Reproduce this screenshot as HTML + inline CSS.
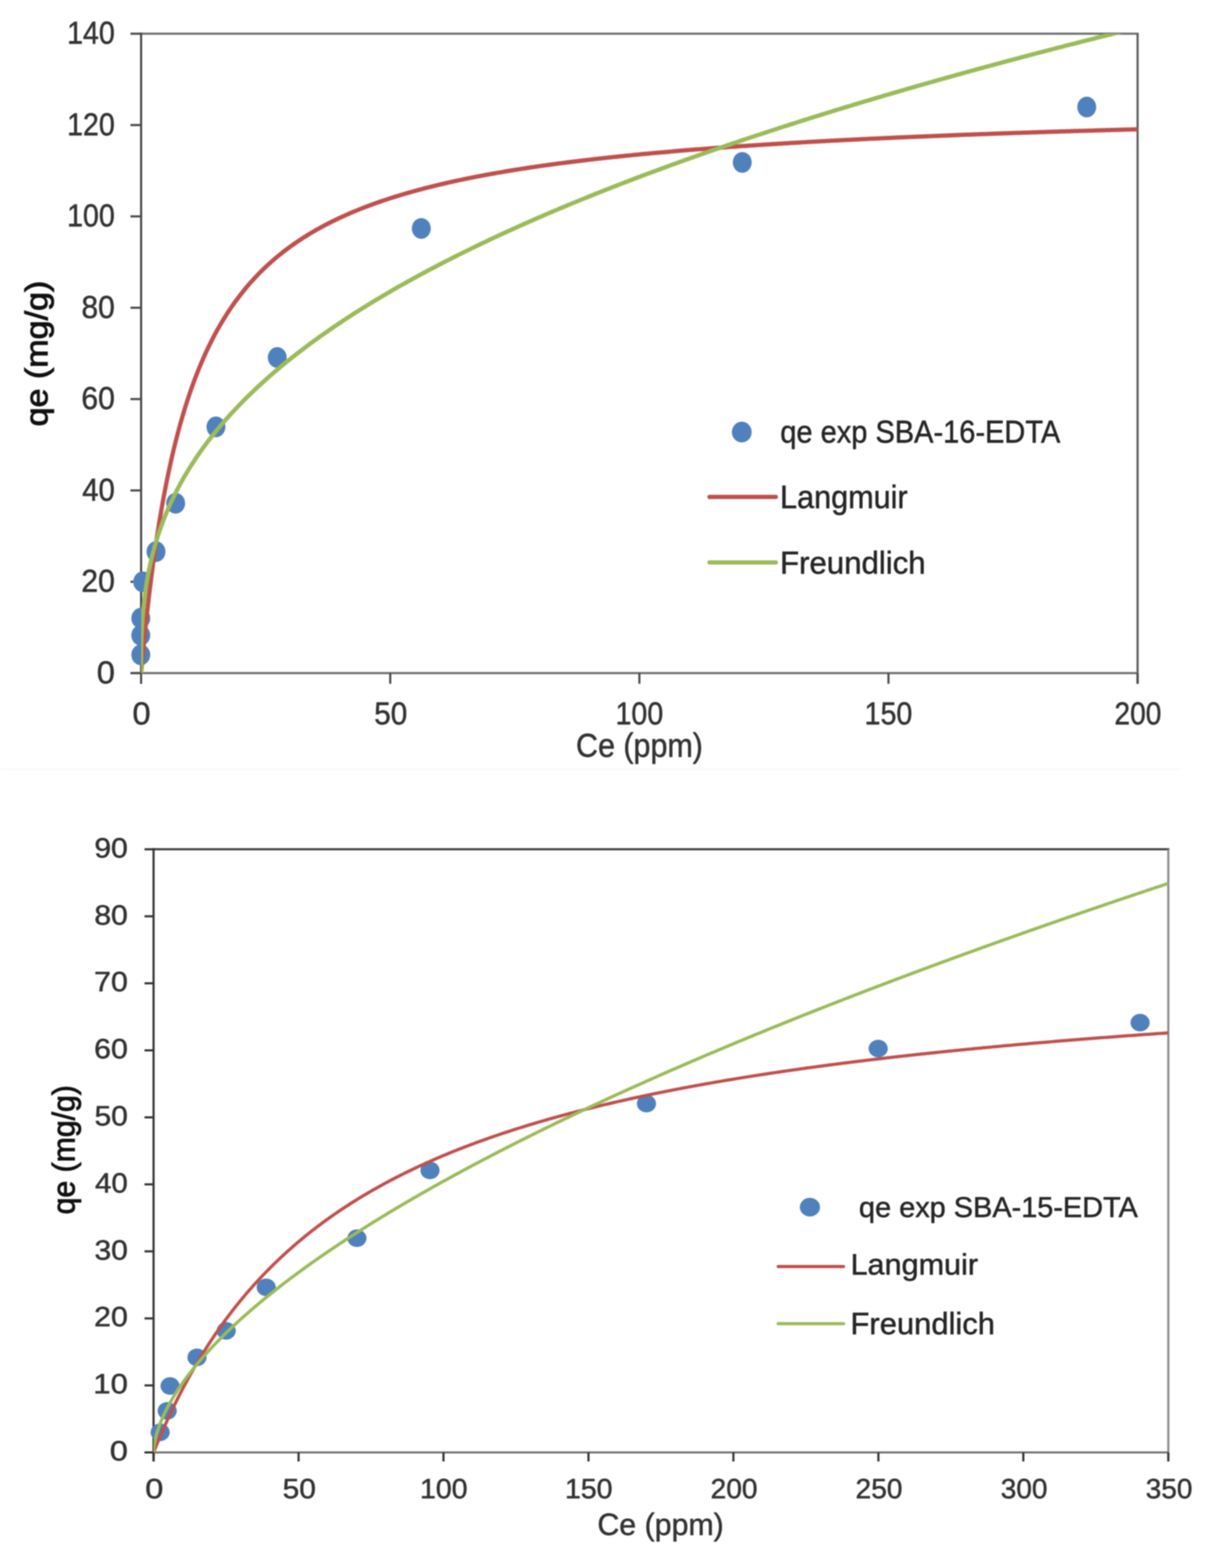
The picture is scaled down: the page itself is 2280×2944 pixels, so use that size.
<!DOCTYPE html><html><head><meta charset="utf-8"><title>Isotherms</title><style>html,body{margin:0;padding:0;background:#fff;}svg{display:block;filter:blur(0.9px);}</style></head><body>
<svg width="2280" height="2944" viewBox="0 0 2280 2944">
<rect width="2280" height="2944" fill="#fff"/>
<line x1="0" y1="1444.5" x2="2218" y2="1444.5" stroke="#f9f9f9" stroke-width="3"/>
<g stroke-linecap="butt" fill="none">
<line x1="263.0" y1="63.3" x2="2138.5" y2="63.3" stroke="#6e6e6e" stroke-width="4"/>
<line x1="2136.5" y1="63.3" x2="2136.5" y2="1283.8" stroke="#5a5a5a" stroke-width="4"/>
<line x1="245.0" y1="1263.8" x2="2136.5" y2="1263.8" stroke="#6e6e6e" stroke-width="4"/>
<line x1="265.0" y1="61.3" x2="265.0" y2="1283.8" stroke="#4a4a4a" stroke-width="4"/>
<line x1="245.0" y1="1263.8" x2="265.0" y2="1263.8" stroke="#4a4a4a" stroke-width="4"/>
<line x1="245.0" y1="1092.3" x2="265.0" y2="1092.3" stroke="#4a4a4a" stroke-width="4"/>
<line x1="245.0" y1="920.8" x2="265.0" y2="920.8" stroke="#4a4a4a" stroke-width="4"/>
<line x1="245.0" y1="749.3" x2="265.0" y2="749.3" stroke="#4a4a4a" stroke-width="4"/>
<line x1="245.0" y1="577.8" x2="265.0" y2="577.8" stroke="#4a4a4a" stroke-width="4"/>
<line x1="245.0" y1="406.3" x2="265.0" y2="406.3" stroke="#4a4a4a" stroke-width="4"/>
<line x1="245.0" y1="234.8" x2="265.0" y2="234.8" stroke="#4a4a4a" stroke-width="4"/>
<line x1="245.0" y1="63.3" x2="265.0" y2="63.3" stroke="#4a4a4a" stroke-width="4"/>
<line x1="265.0" y1="1263.8" x2="265.0" y2="1283.8" stroke="#4a4a4a" stroke-width="4"/>
<line x1="732.9" y1="1263.8" x2="732.9" y2="1283.8" stroke="#4a4a4a" stroke-width="4"/>
<line x1="1200.8" y1="1263.8" x2="1200.8" y2="1283.8" stroke="#4a4a4a" stroke-width="4"/>
<line x1="1668.6" y1="1263.8" x2="1668.6" y2="1283.8" stroke="#4a4a4a" stroke-width="4"/>
<line x1="2136.5" y1="1263.8" x2="2136.5" y2="1283.8" stroke="#4a4a4a" stroke-width="4"/>
</g>
<g font-family='"Liberation Sans", Arial, sans-serif'>
<text x="0" y="0" transform="translate(181.65,1282.61) scale(1.0404,1)" font-size="58.87" font-weight="normal" fill="#333333" stroke="#333333" stroke-width="0.9">0</text>
<text x="0" y="0" transform="translate(152.67,1111.11) scale(0.9611,1)" font-size="58.87" font-weight="normal" fill="#333333" stroke="#333333" stroke-width="0.9">20</text>
<text x="0" y="0" transform="translate(154.40,939.61) scale(0.9338,1)" font-size="58.87" font-weight="normal" fill="#333333" stroke="#333333" stroke-width="0.9">40</text>
<text x="0" y="0" transform="translate(152.67,768.11) scale(0.9611,1)" font-size="58.87" font-weight="normal" fill="#333333" stroke="#333333" stroke-width="0.9">60</text>
<text x="0" y="0" transform="translate(152.97,596.61) scale(0.9565,1)" font-size="58.87" font-weight="normal" fill="#333333" stroke="#333333" stroke-width="0.9">80</text>
<text x="0" y="0" transform="translate(125.97,425.11) scale(0.9121,1)" font-size="58.87" font-weight="normal" fill="#333333" stroke="#333333" stroke-width="0.9">100</text>
<text x="0" y="0" transform="translate(125.97,253.61) scale(0.9121,1)" font-size="58.87" font-weight="normal" fill="#333333" stroke="#333333" stroke-width="0.9">120</text>
<text x="0" y="0" transform="translate(125.97,82.11) scale(0.9121,1)" font-size="58.87" font-weight="normal" fill="#333333" stroke="#333333" stroke-width="0.9">140</text>
<text x="0" y="0" transform="translate(248.85,1360.41) scale(1.0404,1)" font-size="58.87" font-weight="normal" fill="#333333" stroke="#333333" stroke-width="0.9">0</text>
<text x="0" y="0" transform="translate(702.63,1360.41) scale(0.9519,1)" font-size="58.87" font-weight="normal" fill="#333333" stroke="#333333" stroke-width="0.9">50</text>
<text x="0" y="0" transform="translate(1155.97,1360.41) scale(0.9121,1)" font-size="58.87" font-weight="normal" fill="#333333" stroke="#333333" stroke-width="0.9">100</text>
<text x="0" y="0" transform="translate(1623.85,1360.41) scale(0.9121,1)" font-size="58.87" font-weight="normal" fill="#333333" stroke="#333333" stroke-width="0.9">150</text>
<text x="0" y="0" transform="translate(2093.11,1360.41) scale(0.8977,1)" font-size="58.87" font-weight="normal" fill="#333333" stroke="#333333" stroke-width="0.9">200</text>
<text x="0" y="0" transform="translate(1081.84,1421.37) scale(0.9104,1)" font-size="62.82" font-weight="normal" fill="#333333" stroke="#333333" stroke-width="0.9">Ce (ppm)</text>
<text x="0" y="0" transform="translate(89.40,800.56) rotate(-90) scale(1.0934,1)" font-size="58.49" font-weight="normal" fill="#111" stroke="#111" stroke-width="1.6">qe (mg/g)</text>
</g>
<ellipse cx="268.0" cy="1092.5" rx="17.75" ry="19.5" fill="#4f81bd"/>
<ellipse cx="264.4" cy="1160.7" rx="17.75" ry="19.5" fill="#4f81bd"/>
<ellipse cx="264.4" cy="1192.8" rx="17.75" ry="19.5" fill="#4f81bd"/>
<ellipse cx="264.4" cy="1229.5" rx="17.75" ry="19.5" fill="#4f81bd"/>
<ellipse cx="293.0" cy="1035.8" rx="17.75" ry="19.5" fill="#4f81bd"/>
<ellipse cx="329.9" cy="944.9" rx="17.75" ry="19.5" fill="#4f81bd"/>
<ellipse cx="405.6" cy="801.5" rx="17.75" ry="19.5" fill="#4f81bd"/>
<ellipse cx="520.7" cy="671.3" rx="17.75" ry="19.5" fill="#4f81bd"/>
<ellipse cx="791.2" cy="428.9" rx="17.75" ry="19.5" fill="#4f81bd"/>
<ellipse cx="1394.0" cy="304.9" rx="17.75" ry="19.5" fill="#4f81bd"/>
<ellipse cx="2041.0" cy="201.0" rx="17.75" ry="19.5" fill="#4f81bd"/>
<clipPath id="clip1"><rect x="265.0" y="63.3" width="1871.5" height="1200.5"/></clipPath>
<polyline points="265.00,1263.80 265.00,1263.80 265.00,1263.80 265.00,1263.80 265.00,1263.80 265.00,1263.79 265.00,1263.79 265.00,1263.78 265.00,1263.77 265.00,1263.75 265.01,1263.73 265.01,1263.71 265.01,1263.68 265.01,1263.65 265.02,1263.62 265.02,1263.57 265.02,1263.53 265.03,1263.47 265.03,1263.41 265.04,1263.34 265.05,1263.27 265.05,1263.18 265.06,1263.09 265.07,1262.99 265.08,1262.88 265.09,1262.76 265.10,1262.63 265.12,1262.49 265.13,1262.33 265.14,1262.17 265.16,1262.00 265.18,1261.81 265.19,1261.61 265.21,1261.40 265.23,1261.18 265.25,1260.94 265.28,1260.69 265.30,1260.42 265.33,1260.14 265.35,1259.85 265.38,1259.54 265.41,1259.21 265.44,1258.87 265.47,1258.51 265.51,1258.13 265.54,1257.74 265.58,1257.33 265.62,1256.90 265.66,1256.45 265.70,1255.99 265.74,1255.50 265.79,1255.00 265.83,1254.48 265.88,1253.93 265.93,1253.37 265.99,1252.79 266.04,1252.18 266.10,1251.56 266.16,1250.91 266.22,1250.24 266.28,1249.55 266.35,1248.83 266.41,1248.09 266.48,1247.33 266.56,1246.55 266.63,1245.74 266.71,1244.91 266.79,1244.06 266.87,1243.18 266.95,1242.27 267.04,1241.34 267.12,1240.39 267.22,1239.41 267.31,1238.40 267.41,1237.37 267.50,1236.31 267.61,1235.22 267.71,1234.11 267.82,1232.97 267.93,1231.81 268.04,1230.62 268.16,1229.40 268.27,1228.15 268.39,1226.88 268.52,1225.57 268.65,1224.24 268.78,1222.88 268.91,1221.50 269.05,1220.08 269.19,1218.64 269.33,1217.16 269.47,1215.66 269.62,1214.13 269.78,1212.57 269.93,1210.99 270.09,1209.37 270.25,1207.72 270.42,1206.05 270.59,1204.34 270.76,1202.61 270.94,1200.85 271.12,1199.05 271.30,1197.23 271.49,1195.38 271.68,1193.50 271.87,1191.59 272.07,1189.65 272.27,1187.68 272.48,1185.69 272.69,1183.66 272.90,1181.60 273.12,1179.52 273.34,1177.41 273.57,1175.26 273.80,1173.09 274.03,1170.89 274.27,1168.67 274.51,1166.41 274.75,1164.12 275.00,1161.81 275.26,1159.47 275.52,1157.10 275.78,1154.71 276.05,1152.28 276.32,1149.83 276.60,1147.35 276.88,1144.85 277.16,1142.32 277.45,1139.76 277.74,1137.18 278.04,1134.57 278.35,1131.93 278.66,1129.27 278.97,1126.58 279.29,1123.87 279.61,1121.13 279.93,1118.37 280.27,1115.59 280.60,1112.78 280.94,1109.94 281.29,1107.09 281.64,1104.21 282.00,1101.31 282.36,1098.38 282.73,1095.44 283.10,1092.47 283.48,1089.48 283.86,1086.47 284.25,1083.44 284.64,1080.39 285.04,1077.31 285.44,1074.22 285.85,1071.11 286.26,1067.98 286.68,1064.84 287.11,1061.67 287.54,1058.48 287.98,1055.28 288.42,1052.06 288.87,1048.83 289.32,1045.58 289.78,1042.31 290.24,1039.03 290.71,1035.73 291.19,1032.42 291.67,1029.09 292.16,1025.75 292.65,1022.40 293.15,1019.03 293.66,1015.65 294.17,1012.26 294.69,1008.85 295.21,1005.44 295.74,1002.01 296.28,998.57 296.82,995.12 297.37,991.67 297.92,988.20 298.48,984.72 299.05,981.24 299.62,977.75 300.21,974.25 300.79,970.74 301.39,967.22 301.98,963.70 302.59,960.17 303.20,956.64 303.82,953.10 304.45,949.56 305.08,946.01 305.72,942.46 306.37,938.90 307.02,935.34 307.68,931.78 308.35,928.22 309.02,924.65 309.70,921.08 310.39,917.51 311.09,913.94 311.79,910.36 314.83,895.26 317.88,880.77 320.93,866.87 323.97,853.51 327.02,840.68 330.07,828.33 333.11,816.44 336.16,804.99 339.20,793.95 342.25,783.30 345.30,773.01 348.34,763.08 351.39,753.49 354.44,744.21 357.48,735.23 360.53,726.53 363.57,718.11 366.62,709.95 369.67,702.04 372.71,694.37 375.76,686.93 378.81,679.70 381.85,672.67 384.90,665.85 387.94,659.22 390.99,652.77 394.04,646.50 397.08,640.39 400.13,634.45 403.18,628.66 406.22,623.02 409.27,617.52 412.31,612.16 415.36,606.93 418.41,601.84 421.45,596.86 424.50,592.01 427.55,587.27 430.59,582.64 433.64,578.11 436.68,573.69 439.73,569.37 442.78,565.15 445.82,561.02 448.87,556.98 451.92,553.03 454.96,549.16 458.01,545.37 461.05,541.66 464.10,538.03 467.15,534.47 470.19,530.99 473.24,527.58 476.29,524.23 479.33,520.95 482.38,517.73 485.42,514.58 488.47,511.48 491.52,508.45 494.56,505.47 497.61,502.54 500.66,499.67 503.70,496.86 506.75,494.09 509.79,491.37 512.84,488.70 515.89,486.08 518.93,483.51 521.98,480.98 525.03,478.49 528.07,476.04 531.12,473.64 534.16,471.27 537.21,468.95 540.26,466.66 543.30,464.41 546.35,462.20 549.40,460.02 552.44,457.88 555.49,455.77 558.53,453.69 561.58,451.65 564.63,449.64 567.67,447.66 570.72,445.70 573.77,443.78 576.81,441.89 579.86,440.02 582.91,438.19 585.95,436.38 589.00,434.59 592.04,432.83 595.09,431.10 598.14,429.39 601.18,427.71 604.23,426.05 607.28,424.41 610.32,422.79 613.37,421.20 616.41,419.63 619.46,418.08 622.51,416.55 625.55,415.04 628.60,413.55 631.65,412.08 634.69,410.63 637.74,409.20 640.78,407.79 643.83,406.40 646.88,405.02 649.92,403.66 652.97,402.32 656.02,400.99 659.06,399.69 662.11,398.39 665.15,397.12 668.20,395.86 671.25,394.61 674.29,393.38 677.34,392.16 680.39,390.96 683.43,389.78 686.48,388.60 689.52,387.44 692.57,386.30 695.62,385.17 698.66,384.05 701.71,382.94 704.76,381.85 707.80,380.76 710.85,379.70 713.89,378.64 716.94,377.59 719.99,376.56 723.03,375.54 726.08,374.52 729.13,373.52 732.17,372.53 735.22,371.55 738.26,370.59 741.31,369.63 744.36,368.68 747.40,367.74 750.45,366.81 753.50,365.90 756.54,364.99 759.59,364.09 762.63,363.20 765.68,362.32 768.73,361.44 771.77,360.58 774.82,359.73 777.87,358.88 780.91,358.04 783.96,357.21 787.00,356.39 790.05,355.58 793.10,354.77 796.14,353.97 799.19,353.19 802.24,352.40 805.28,351.63 808.33,350.86 811.37,350.10 814.42,349.35 817.47,348.60 820.51,347.86 823.56,347.13 826.61,346.41 829.65,345.69 832.70,344.98 835.75,344.27 838.79,343.57 841.84,342.88 844.88,342.20 847.93,341.52 850.98,340.84 854.02,340.17 857.07,339.51 860.12,338.86 863.16,338.21 866.21,337.56 869.25,336.92 872.30,336.29 875.35,335.66 878.39,335.04 881.44,334.42 884.49,333.81 887.53,333.20 890.58,332.60 893.62,332.00 896.67,331.41 899.72,330.82 902.76,330.24 905.81,329.67 908.86,329.09 911.90,328.53 914.95,327.96 917.99,327.40 921.04,326.85 924.09,326.30 927.13,325.76 930.18,325.22 933.23,324.68 936.27,324.15 939.32,323.62 942.36,323.10 945.41,322.58 948.46,322.06 951.50,321.55 954.55,321.04 957.60,320.54 960.64,320.04 963.69,319.54 966.73,319.05 969.78,318.56 972.83,318.08 975.87,317.60 978.92,317.12 981.97,316.65 985.01,316.18 988.06,315.71 991.10,315.25 994.15,314.79 997.20,314.33 1000.24,313.88 1003.29,313.43 1006.34,312.98 1009.38,312.54 1012.43,312.10 1015.47,311.66 1018.52,311.23 1021.57,310.80 1024.61,310.37 1027.66,309.94 1030.71,309.52 1033.75,309.10 1036.80,308.69 1039.84,308.28 1042.89,307.87 1045.94,307.46 1048.98,307.05 1052.03,306.65 1055.08,306.25 1058.12,305.86 1061.17,305.47 1064.21,305.07 1067.26,304.69 1070.31,304.30 1073.35,303.92 1076.40,303.54 1079.45,303.16 1082.49,302.79 1085.54,302.41 1088.58,302.04 1091.63,301.68 1094.68,301.31 1097.72,300.95 1100.77,300.59 1103.82,300.23 1106.86,299.87 1109.91,299.52 1112.96,299.17 1116.00,298.82 1119.05,298.47 1122.09,298.13 1125.14,297.79 1128.19,297.45 1131.23,297.11 1134.28,296.77 1137.33,296.44 1140.37,296.11 1143.42,295.78 1146.46,295.45 1149.51,295.13 1152.56,294.80 1155.60,294.48 1158.65,294.16 1161.70,293.85 1164.74,293.53 1167.79,293.22 1170.83,292.91 1173.88,292.60 1176.93,292.29 1179.97,291.98 1183.02,291.68 1186.07,291.38 1189.11,291.07 1192.16,290.78 1195.20,290.48 1198.25,290.18 1201.30,289.89 1204.34,289.60 1207.39,289.31 1210.44,289.02 1213.48,288.73 1216.53,288.45 1219.57,288.17 1222.62,287.88 1225.67,287.60 1228.71,287.32 1231.76,287.05 1234.81,286.77 1237.85,286.50 1240.90,286.23 1243.94,285.96 1246.99,285.69 1250.04,285.42 1253.08,285.15 1256.13,284.89 1259.18,284.63 1262.22,284.36 1265.27,284.10 1268.31,283.85 1271.36,283.59 1274.41,283.33 1277.45,283.08 1280.50,282.83 1283.55,282.57 1286.59,282.32 1289.64,282.07 1292.68,281.83 1295.73,281.58 1298.78,281.34 1301.82,281.09 1304.87,280.85 1307.92,280.61 1310.96,280.37 1314.01,280.13 1317.05,279.89 1320.10,279.66 1323.15,279.42 1326.19,279.19 1329.24,278.96 1332.29,278.73 1335.33,278.50 1338.38,278.27 1341.42,278.04 1344.47,277.81 1347.52,277.59 1350.56,277.37 1353.61,277.14 1356.66,276.92 1359.70,276.70 1362.75,276.48 1365.80,276.26 1368.84,276.05 1371.89,275.83 1374.93,275.62 1377.98,275.40 1381.03,275.19 1384.07,274.98 1387.12,274.77 1390.17,274.56 1393.21,274.35 1396.26,274.14 1399.30,273.93 1402.35,273.73 1405.40,273.52 1408.44,273.32 1411.49,273.12 1414.54,272.92 1417.58,272.72 1420.63,272.52 1423.67,272.32 1426.72,272.12 1429.77,271.92 1432.81,271.73 1435.86,271.53 1438.91,271.34 1441.95,271.15 1445.00,270.96 1448.04,270.76 1451.09,270.57 1454.14,270.39 1457.18,270.20 1460.23,270.01 1463.28,269.82 1466.32,269.64 1469.37,269.45 1472.41,269.27 1475.46,269.09 1478.51,268.90 1481.55,268.72 1484.60,268.54 1487.65,268.36 1490.69,268.18 1493.74,268.01 1496.78,267.83 1499.83,267.65 1502.88,267.48 1505.92,267.30 1508.97,267.13 1512.02,266.95 1515.06,266.78 1518.11,266.61 1521.15,266.44 1524.20,266.27 1527.25,266.10 1530.29,265.93 1533.34,265.76 1536.39,265.60 1539.43,265.43 1542.48,265.26 1545.52,265.10 1548.57,264.94 1551.62,264.77 1554.66,264.61 1557.71,264.45 1560.76,264.29 1563.80,264.13 1566.85,263.97 1569.89,263.81 1572.94,263.65 1575.99,263.49 1579.03,263.33 1582.08,263.18 1585.13,263.02 1588.17,262.87 1591.22,262.71 1594.26,262.56 1597.31,262.40 1600.36,262.25 1603.40,262.10 1606.45,261.95 1609.50,261.80 1612.54,261.65 1615.59,261.50 1618.64,261.35 1621.68,261.20 1624.73,261.06 1627.77,260.91 1630.82,260.76 1633.87,260.62 1636.91,260.47 1639.96,260.33 1643.01,260.18 1646.05,260.04 1649.10,259.90 1652.14,259.76 1655.19,259.62 1658.24,259.47 1661.28,259.33 1664.33,259.19 1667.38,259.06 1670.42,258.92 1673.47,258.78 1676.51,258.64 1679.56,258.50 1682.61,258.37 1685.65,258.23 1688.70,258.10 1691.75,257.96 1694.79,257.83 1697.84,257.69 1700.88,257.56 1703.93,257.43 1706.98,257.30 1710.02,257.17 1713.07,257.03 1716.12,256.90 1719.16,256.77 1722.21,256.64 1725.25,256.52 1728.30,256.39 1731.35,256.26 1734.39,256.13 1737.44,256.01 1740.49,255.88 1743.53,255.75 1746.58,255.63 1749.62,255.50 1752.67,255.38 1755.72,255.25 1758.76,255.13 1761.81,255.01 1764.86,254.88 1767.90,254.76 1770.95,254.64 1773.99,254.52 1777.04,254.40 1780.09,254.28 1783.13,254.16 1786.18,254.04 1789.23,253.92 1792.27,253.80 1795.32,253.68 1798.36,253.57 1801.41,253.45 1804.46,253.33 1807.50,253.22 1810.55,253.10 1813.60,252.98 1816.64,252.87 1819.69,252.76 1822.73,252.64 1825.78,252.53 1828.83,252.41 1831.87,252.30 1834.92,252.19 1837.97,252.08 1841.01,251.97 1844.06,251.85 1847.10,251.74 1850.15,251.63 1853.20,251.52 1856.24,251.41 1859.29,251.30 1862.34,251.19 1865.38,251.09 1868.43,250.98 1871.47,250.87 1874.52,250.76 1877.57,250.66 1880.61,250.55 1883.66,250.44 1886.71,250.34 1889.75,250.23 1892.80,250.13 1895.85,250.02 1898.89,249.92 1901.94,249.81 1904.98,249.71 1908.03,249.61 1911.08,249.50 1914.12,249.40 1917.17,249.30 1920.22,249.20 1923.26,249.10 1926.31,249.00 1929.35,248.89 1932.40,248.79 1935.45,248.69 1938.49,248.59 1941.54,248.50 1944.59,248.40 1947.63,248.30 1950.68,248.20 1953.72,248.10 1956.77,248.00 1959.82,247.91 1962.86,247.81 1965.91,247.71 1968.96,247.62 1972.00,247.52 1975.05,247.42 1978.09,247.33 1981.14,247.23 1984.19,247.14 1987.23,247.04 1990.28,246.95 1993.33,246.86 1996.37,246.76 1999.42,246.67 2002.46,246.58 2005.51,246.49 2008.56,246.39 2011.60,246.30 2014.65,246.21 2017.70,246.12 2020.74,246.03 2023.79,245.94 2026.83,245.85 2029.88,245.76 2032.93,245.67 2035.97,245.58 2039.02,245.49 2042.07,245.40 2045.11,245.31 2048.16,245.22 2051.20,245.13 2054.25,245.05 2057.30,244.96 2060.34,244.87 2063.39,244.78 2066.44,244.70 2069.48,244.61 2072.53,244.52 2075.57,244.44 2078.62,244.35 2081.67,244.27 2084.71,244.18 2087.76,244.10 2090.81,244.01 2093.85,243.93 2096.90,243.84 2099.94,243.76 2102.99,243.68 2106.04,243.59 2109.08,243.51 2112.13,243.43 2115.18,243.35 2118.22,243.26 2121.27,243.18 2124.31,243.10 2127.36,243.02 2130.41,242.94 2133.45,242.86 2136.50,242.78" fill="none" stroke="#c0504d" stroke-width="8" stroke-linejoin="round" stroke-linecap="round" clip-path="url(#clip1)"/>
<polyline points="265.00,1263.80 265.00,1263.07 265.00,1262.20 265.00,1261.27 265.00,1260.29 265.00,1259.27 265.00,1258.23 265.00,1257.16 265.00,1256.07 265.00,1254.96 265.01,1253.83 265.01,1252.69 265.01,1251.54 265.01,1250.37 265.02,1249.19 265.02,1247.99 265.02,1246.79 265.03,1245.58 265.03,1244.35 265.04,1243.12 265.05,1241.88 265.05,1240.62 265.06,1239.36 265.07,1238.10 265.08,1236.82 265.09,1235.54 265.10,1234.25 265.12,1232.95 265.13,1231.65 265.14,1230.34 265.16,1229.03 265.18,1227.71 265.19,1226.38 265.21,1225.05 265.23,1223.71 265.25,1222.36 265.28,1221.01 265.30,1219.66 265.33,1218.30 265.35,1216.94 265.38,1215.57 265.41,1214.19 265.44,1212.81 265.47,1211.43 265.51,1210.04 265.54,1208.65 265.58,1207.25 265.62,1205.85 265.66,1204.45 265.70,1203.04 265.74,1201.63 265.79,1200.21 265.83,1198.79 265.88,1197.37 265.93,1195.94 265.99,1194.51 266.04,1193.07 266.10,1191.64 266.16,1190.19 266.22,1188.75 266.28,1187.30 266.35,1185.85 266.41,1184.39 266.48,1182.93 266.56,1181.47 266.63,1180.01 266.71,1178.54 266.79,1177.07 266.87,1175.60 266.95,1174.12 267.04,1172.64 267.12,1171.16 267.22,1169.67 267.31,1168.18 267.41,1166.69 267.50,1165.20 267.61,1163.70 267.71,1162.20 267.82,1160.70 267.93,1159.19 268.04,1157.68 268.16,1156.17 268.27,1154.66 268.39,1153.15 268.52,1151.63 268.65,1150.11 268.78,1148.59 268.91,1147.06 269.05,1145.53 269.19,1144.00 269.33,1142.47 269.47,1140.94 269.62,1139.40 269.78,1137.86 269.93,1136.32 270.09,1134.77 270.25,1133.23 270.42,1131.68 270.59,1130.13 270.76,1128.58 270.94,1127.02 271.12,1125.47 271.30,1123.91 271.49,1122.35 271.68,1120.78 271.87,1119.22 272.07,1117.65 272.27,1116.08 272.48,1114.51 272.69,1112.94 272.90,1111.36 273.12,1109.78 273.34,1108.20 273.57,1106.62 273.80,1105.04 274.03,1103.45 274.27,1101.87 274.51,1100.28 274.75,1098.69 275.00,1097.09 275.26,1095.50 275.52,1093.90 275.78,1092.31 276.05,1090.71 276.32,1089.10 276.60,1087.50 276.88,1085.90 277.16,1084.29 277.45,1082.68 277.74,1081.07 278.04,1079.46 278.35,1077.84 278.66,1076.23 278.97,1074.61 279.29,1072.99 279.61,1071.37 279.93,1069.75 280.27,1068.12 280.60,1066.50 280.94,1064.87 281.29,1063.24 281.64,1061.61 282.00,1059.98 282.36,1058.35 282.73,1056.71 283.10,1055.08 283.48,1053.44 283.86,1051.80 284.25,1050.16 284.64,1048.51 285.04,1046.87 285.44,1045.22 285.85,1043.58 286.26,1041.93 286.68,1040.28 287.11,1038.63 287.54,1036.97 287.98,1035.32 288.42,1033.66 288.87,1032.00 289.32,1030.34 289.78,1028.68 290.24,1027.02 290.71,1025.36 291.19,1023.69 291.67,1022.03 292.16,1020.36 292.65,1018.69 293.15,1017.02 293.66,1015.35 294.17,1013.68 294.69,1012.00 295.21,1010.33 295.74,1008.65 296.28,1006.97 296.82,1005.29 297.37,1003.61 297.92,1001.93 298.48,1000.25 299.05,998.56 299.62,996.87 300.21,995.19 300.79,993.50 301.39,991.81 301.98,990.12 302.59,988.42 303.20,986.73 303.82,985.04 304.45,983.34 305.08,981.64 305.72,979.94 306.37,978.24 307.02,976.54 307.68,974.84 308.35,973.14 309.02,971.43 309.70,969.72 310.39,968.02 311.09,966.31 311.79,964.60 314.83,957.36 317.88,950.38 320.93,943.66 323.97,937.15 327.02,930.86 330.07,924.75 333.11,918.81 336.16,913.04 339.20,907.42 342.25,901.94 345.30,896.60 348.34,891.38 351.39,886.27 354.44,881.28 357.48,876.39 360.53,871.60 363.57,866.91 366.62,862.30 369.67,857.78 372.71,853.34 375.76,848.97 378.81,844.68 381.85,840.46 384.90,836.31 387.94,832.23 390.99,828.20 394.04,824.24 397.08,820.33 400.13,816.48 403.18,812.68 406.22,808.94 409.27,805.24 412.31,801.60 415.36,798.00 418.41,794.44 421.45,790.93 424.50,787.46 427.55,784.03 430.59,780.64 433.64,777.29 436.68,773.97 439.73,770.70 442.78,767.45 445.82,764.24 448.87,761.07 451.92,757.93 454.96,754.82 458.01,751.74 461.05,748.69 464.10,745.67 467.15,742.68 470.19,739.71 473.24,736.78 476.29,733.87 479.33,730.98 482.38,728.12 485.42,725.29 488.47,722.48 491.52,719.69 494.56,716.93 497.61,714.19 500.66,711.47 503.70,708.78 506.75,706.10 509.79,703.45 512.84,700.81 515.89,698.20 518.93,695.60 521.98,693.03 525.03,690.47 528.07,687.94 531.12,685.42 534.16,682.91 537.21,680.43 540.26,677.96 543.30,675.51 546.35,673.08 549.40,670.66 552.44,668.26 555.49,665.88 558.53,663.51 561.58,661.15 564.63,658.81 567.67,656.49 570.72,654.18 573.77,651.88 576.81,649.60 579.86,647.33 582.91,645.08 585.95,642.84 589.00,640.61 592.04,638.39 595.09,636.19 598.14,634.00 601.18,631.82 604.23,629.66 607.28,627.50 610.32,625.36 613.37,623.23 616.41,621.11 619.46,619.01 622.51,616.91 625.55,614.83 628.60,612.75 631.65,610.69 634.69,608.64 637.74,606.60 640.78,604.57 643.83,602.54 646.88,600.53 649.92,598.53 652.97,596.54 656.02,594.56 659.06,592.59 662.11,590.62 665.15,588.67 668.20,586.73 671.25,584.79 674.29,582.87 677.34,580.95 680.39,579.04 683.43,577.14 686.48,575.25 689.52,573.37 692.57,571.49 695.62,569.63 698.66,567.77 701.71,565.92 704.76,564.08 707.80,562.24 710.85,560.42 713.89,558.60 716.94,556.79 719.99,554.98 723.03,553.19 726.08,551.40 729.13,549.62 732.17,547.84 735.22,546.08 738.26,544.32 741.31,542.57 744.36,540.82 747.40,539.08 750.45,537.35 753.50,535.63 756.54,533.91 759.59,532.19 762.63,530.49 765.68,528.79 768.73,527.10 771.77,525.41 774.82,523.73 777.87,522.06 780.91,520.39 783.96,518.73 787.00,517.07 790.05,515.43 793.10,513.78 796.14,512.14 799.19,510.51 802.24,508.89 805.28,507.27 808.33,505.65 811.37,504.04 814.42,502.44 817.47,500.84 820.51,499.25 823.56,497.66 826.61,496.08 829.65,494.50 832.70,492.93 835.75,491.37 838.79,489.81 841.84,488.25 844.88,486.70 847.93,485.16 850.98,483.62 854.02,482.08 857.07,480.55 860.12,479.02 863.16,477.50 866.21,475.99 869.25,474.48 872.30,472.97 875.35,471.47 878.39,469.97 881.44,468.48 884.49,466.99 887.53,465.51 890.58,464.03 893.62,462.55 896.67,461.08 899.72,459.62 902.76,458.16 905.81,456.70 908.86,455.25 911.90,453.80 914.95,452.35 917.99,450.91 921.04,449.48 924.09,448.05 927.13,446.62 930.18,445.20 933.23,443.78 936.27,442.36 939.32,440.95 942.36,439.54 945.41,438.14 948.46,436.74 951.50,435.34 954.55,433.95 957.60,432.56 960.64,431.18 963.69,429.80 966.73,428.42 969.78,427.05 972.83,425.68 975.87,424.31 978.92,422.95 981.97,421.59 985.01,420.24 988.06,418.88 991.10,417.54 994.15,416.19 997.20,414.85 1000.24,413.51 1003.29,412.18 1006.34,410.85 1009.38,409.52 1012.43,408.20 1015.47,406.88 1018.52,405.56 1021.57,404.25 1024.61,402.94 1027.66,401.63 1030.71,400.32 1033.75,399.02 1036.80,397.73 1039.84,396.43 1042.89,395.14 1045.94,393.85 1048.98,392.57 1052.03,391.28 1055.08,390.01 1058.12,388.73 1061.17,387.46 1064.21,386.19 1067.26,384.92 1070.31,383.66 1073.35,382.39 1076.40,381.14 1079.45,379.88 1082.49,378.63 1085.54,377.38 1088.58,376.13 1091.63,374.89 1094.68,373.65 1097.72,372.41 1100.77,371.18 1103.82,369.94 1106.86,368.72 1109.91,367.49 1112.96,366.26 1116.00,365.04 1119.05,363.83 1122.09,362.61 1125.14,361.40 1128.19,360.19 1131.23,358.98 1134.28,357.77 1137.33,356.57 1140.37,355.37 1143.42,354.17 1146.46,352.98 1149.51,351.79 1152.56,350.60 1155.60,349.41 1158.65,348.22 1161.70,347.04 1164.74,345.86 1167.79,344.69 1170.83,343.51 1173.88,342.34 1176.93,341.17 1179.97,340.00 1183.02,338.84 1186.07,337.67 1189.11,336.51 1192.16,335.36 1195.20,334.20 1198.25,333.05 1201.30,331.90 1204.34,330.75 1207.39,329.60 1210.44,328.46 1213.48,327.32 1216.53,326.18 1219.57,325.04 1222.62,323.90 1225.67,322.77 1228.71,321.64 1231.76,320.51 1234.81,319.39 1237.85,318.26 1240.90,317.14 1243.94,316.02 1246.99,314.91 1250.04,313.79 1253.08,312.68 1256.13,311.57 1259.18,310.46 1262.22,309.35 1265.27,308.25 1268.31,307.15 1271.36,306.04 1274.41,304.95 1277.45,303.85 1280.50,302.76 1283.55,301.66 1286.59,300.57 1289.64,299.49 1292.68,298.40 1295.73,297.32 1298.78,296.23 1301.82,295.15 1304.87,294.08 1307.92,293.00 1310.96,291.93 1314.01,290.85 1317.05,289.78 1320.10,288.71 1323.15,287.65 1326.19,286.58 1329.24,285.52 1332.29,284.46 1335.33,283.40 1338.38,282.34 1341.42,281.29 1344.47,280.24 1347.52,279.18 1350.56,278.13 1353.61,277.09 1356.66,276.04 1359.70,275.00 1362.75,273.95 1365.80,272.91 1368.84,271.87 1371.89,270.84 1374.93,269.80 1377.98,268.77 1381.03,267.74 1384.07,266.71 1387.12,265.68 1390.17,264.65 1393.21,263.63 1396.26,262.60 1399.30,261.58 1402.35,260.56 1405.40,259.54 1408.44,258.53 1411.49,257.51 1414.54,256.50 1417.58,255.49 1420.63,254.48 1423.67,253.47 1426.72,252.47 1429.77,251.46 1432.81,250.46 1435.86,249.46 1438.91,248.46 1441.95,247.46 1445.00,246.46 1448.04,245.47 1451.09,244.47 1454.14,243.48 1457.18,242.49 1460.23,241.50 1463.28,240.51 1466.32,239.53 1469.37,238.55 1472.41,237.56 1475.46,236.58 1478.51,235.60 1481.55,234.62 1484.60,233.65 1487.65,232.67 1490.69,231.70 1493.74,230.73 1496.78,229.76 1499.83,228.79 1502.88,227.82 1505.92,226.86 1508.97,225.89 1512.02,224.93 1515.06,223.97 1518.11,223.01 1521.15,222.05 1524.20,221.09 1527.25,220.13 1530.29,219.18 1533.34,218.23 1536.39,217.28 1539.43,216.33 1542.48,215.38 1545.52,214.43 1548.57,213.48 1551.62,212.54 1554.66,211.60 1557.71,210.65 1560.76,209.71 1563.80,208.78 1566.85,207.84 1569.89,206.90 1572.94,205.97 1575.99,205.03 1579.03,204.10 1582.08,203.17 1585.13,202.24 1588.17,201.31 1591.22,200.39 1594.26,199.46 1597.31,198.54 1600.36,197.61 1603.40,196.69 1606.45,195.77 1609.50,194.85 1612.54,193.94 1615.59,193.02 1618.64,192.10 1621.68,191.19 1624.73,190.28 1627.77,189.37 1630.82,188.46 1633.87,187.55 1636.91,186.64 1639.96,185.73 1643.01,184.83 1646.05,183.92 1649.10,183.02 1652.14,182.12 1655.19,181.22 1658.24,180.32 1661.28,179.42 1664.33,178.53 1667.38,177.63 1670.42,176.74 1673.47,175.85 1676.51,174.95 1679.56,174.06 1682.61,173.17 1685.65,172.29 1688.70,171.40 1691.75,170.51 1694.79,169.63 1697.84,168.75 1700.88,167.86 1703.93,166.98 1706.98,166.10 1710.02,165.22 1713.07,164.35 1716.12,163.47 1719.16,162.59 1722.21,161.72 1725.25,160.85 1728.30,159.98 1731.35,159.11 1734.39,158.24 1737.44,157.37 1740.49,156.50 1743.53,155.63 1746.58,154.77 1749.62,153.90 1752.67,153.04 1755.72,152.18 1758.76,151.32 1761.81,150.46 1764.86,149.60 1767.90,148.74 1770.95,147.89 1773.99,147.03 1777.04,146.18 1780.09,145.32 1783.13,144.47 1786.18,143.62 1789.23,142.77 1792.27,141.92 1795.32,141.07 1798.36,140.23 1801.41,139.38 1804.46,138.54 1807.50,137.69 1810.55,136.85 1813.60,136.01 1816.64,135.17 1819.69,134.33 1822.73,133.49 1825.78,132.65 1828.83,131.81 1831.87,130.98 1834.92,130.14 1837.97,129.31 1841.01,128.48 1844.06,127.65 1847.10,126.82 1850.15,125.99 1853.20,125.16 1856.24,124.33 1859.29,123.50 1862.34,122.68 1865.38,121.85 1868.43,121.03 1871.47,120.21 1874.52,119.39 1877.57,118.56 1880.61,117.74 1883.66,116.93 1886.71,116.11 1889.75,115.29 1892.80,114.47 1895.85,113.66 1898.89,112.85 1901.94,112.03 1904.98,111.22 1908.03,110.41 1911.08,109.60 1914.12,108.79 1917.17,107.98 1920.22,107.17 1923.26,106.37 1926.31,105.56 1929.35,104.76 1932.40,103.95 1935.45,103.15 1938.49,102.35 1941.54,101.55 1944.59,100.75 1947.63,99.95 1950.68,99.15 1953.72,98.35 1956.77,97.55 1959.82,96.76 1962.86,95.96 1965.91,95.17 1968.96,94.38 1972.00,93.58 1975.05,92.79 1978.09,92.00 1981.14,91.21 1984.19,90.42 1987.23,89.63 1990.28,88.85 1993.33,88.06 1996.37,87.28 1999.42,86.49 2002.46,85.71 2005.51,84.93 2008.56,84.14 2011.60,83.36 2014.65,82.58 2017.70,81.80 2020.74,81.02 2023.79,80.25 2026.83,79.47 2029.88,78.69 2032.93,77.92 2035.97,77.14 2039.02,76.37 2042.07,75.60 2045.11,74.83 2048.16,74.05 2051.20,73.28 2054.25,72.51 2057.30,71.75 2060.34,70.98 2063.39,70.21 2066.44,69.45 2069.48,68.68 2072.53,67.92 2075.57,67.15 2078.62,66.39 2081.67,65.63 2084.71,64.86 2087.76,64.10 2090.81,63.34 2093.85,62.59 2096.90,61.83 2099.94,61.07 2102.99,60.31 2106.04,59.56 2109.08,58.80 2112.13,58.05 2115.18,57.29 2118.22,56.54 2121.27,55.79 2124.31,55.04 2127.36,54.29 2130.41,53.54 2133.45,52.79 2136.50,52.04" fill="none" stroke="#9bbb59" stroke-width="8" stroke-linejoin="round" stroke-linecap="round" clip-path="url(#clip1)"/>
<ellipse cx="1393.1" cy="811.3" rx="18.6" ry="19.5" fill="#4f81bd"/>
<line x1="1332.5" x2="1457" y1="933.1" y2="933.1" stroke="#c0504d" stroke-width="8" stroke-linecap="round"/>
<line x1="1332.5" x2="1457" y1="1056" y2="1056" stroke="#9bbb59" stroke-width="8" stroke-linecap="round"/>
<g font-family='"Liberation Sans", Arial, sans-serif'>
<text x="0" y="0" transform="translate(1465.52,830.70) scale(0.9212,1)" font-size="59.14" fill="#262626" stroke="#262626" stroke-width="0.9">qe exp SBA-16-EDTA</text>
<text x="0" y="0" transform="translate(1465.10,953.70) scale(0.9374,1)" font-size="61.30" fill="#262626" stroke="#262626" stroke-width="0.9">Langmuir</text>
<text x="0" y="0" transform="translate(1465.01,1077.00) scale(0.9761,1)" font-size="60.00" fill="#262626" stroke="#262626" stroke-width="0.9">Freundlich</text>
</g>
<g stroke-linecap="butt" fill="none">
<line x1="286.4" y1="1594.6" x2="2196.2" y2="1594.6" stroke="#3c3c3c" stroke-width="4"/>
<line x1="2194.2" y1="1594.6" x2="2194.2" y2="2744.0" stroke="#8a8a8a" stroke-width="4"/>
<line x1="271.4" y1="2727.0" x2="2194.2" y2="2727.0" stroke="#777777" stroke-width="4"/>
<line x1="288.4" y1="1592.6" x2="288.4" y2="2744.0" stroke="#333333" stroke-width="4"/>
<line x1="271.4" y1="2727.0" x2="288.4" y2="2727.0" stroke="#333333" stroke-width="4"/>
<line x1="271.4" y1="2601.2" x2="288.4" y2="2601.2" stroke="#333333" stroke-width="4"/>
<line x1="271.4" y1="2475.4" x2="288.4" y2="2475.4" stroke="#333333" stroke-width="4"/>
<line x1="271.4" y1="2349.5" x2="288.4" y2="2349.5" stroke="#333333" stroke-width="4"/>
<line x1="271.4" y1="2223.7" x2="288.4" y2="2223.7" stroke="#333333" stroke-width="4"/>
<line x1="271.4" y1="2097.9" x2="288.4" y2="2097.9" stroke="#333333" stroke-width="4"/>
<line x1="271.4" y1="1972.1" x2="288.4" y2="1972.1" stroke="#333333" stroke-width="4"/>
<line x1="271.4" y1="1846.2" x2="288.4" y2="1846.2" stroke="#333333" stroke-width="4"/>
<line x1="271.4" y1="1720.4" x2="288.4" y2="1720.4" stroke="#333333" stroke-width="4"/>
<line x1="271.4" y1="1594.6" x2="288.4" y2="1594.6" stroke="#333333" stroke-width="4"/>
<line x1="288.4" y1="2727.0" x2="288.4" y2="2744.0" stroke="#333333" stroke-width="4"/>
<line x1="560.7" y1="2727.0" x2="560.7" y2="2744.0" stroke="#333333" stroke-width="4"/>
<line x1="832.9" y1="2727.0" x2="832.9" y2="2744.0" stroke="#333333" stroke-width="4"/>
<line x1="1105.2" y1="2727.0" x2="1105.2" y2="2744.0" stroke="#333333" stroke-width="4"/>
<line x1="1377.4" y1="2727.0" x2="1377.4" y2="2744.0" stroke="#333333" stroke-width="4"/>
<line x1="1649.7" y1="2727.0" x2="1649.7" y2="2744.0" stroke="#333333" stroke-width="4"/>
<line x1="1921.9" y1="2727.0" x2="1921.9" y2="2744.0" stroke="#333333" stroke-width="4"/>
<line x1="2194.2" y1="2727.0" x2="2194.2" y2="2744.0" stroke="#333333" stroke-width="4"/>
</g>
<g font-family='"Liberation Sans", Arial, sans-serif'>
<text x="0" y="0" transform="translate(206.26,2742.14) scale(1.1939,1)" font-size="51.13" font-weight="normal" fill="#333333" stroke="#333333" stroke-width="0.9">0</text>
<text x="0" y="0" transform="translate(175.33,2616.32) scale(1.1403,1)" font-size="51.13" font-weight="normal" fill="#333333" stroke="#333333" stroke-width="0.9">10</text>
<text x="0" y="0" transform="translate(176.86,2490.49) scale(1.1125,1)" font-size="51.13" font-weight="normal" fill="#333333" stroke="#333333" stroke-width="0.9">20</text>
<text x="0" y="0" transform="translate(177.45,2364.67) scale(1.1017,1)" font-size="51.13" font-weight="normal" fill="#333333" stroke="#333333" stroke-width="0.9">30</text>
<text x="0" y="0" transform="translate(178.59,2238.85) scale(1.0809,1)" font-size="51.13" font-weight="normal" fill="#333333" stroke="#333333" stroke-width="0.9">40</text>
<text x="0" y="0" transform="translate(177.45,2113.03) scale(1.1017,1)" font-size="51.13" font-weight="normal" fill="#333333" stroke="#333333" stroke-width="0.9">50</text>
<text x="0" y="0" transform="translate(176.86,1987.21) scale(1.1125,1)" font-size="51.13" font-weight="normal" fill="#333333" stroke="#333333" stroke-width="0.9">60</text>
<text x="0" y="0" transform="translate(176.86,1861.38) scale(1.1125,1)" font-size="51.13" font-weight="normal" fill="#333333" stroke="#333333" stroke-width="0.9">70</text>
<text x="0" y="0" transform="translate(177.15,1735.56) scale(1.1071,1)" font-size="51.13" font-weight="normal" fill="#333333" stroke="#333333" stroke-width="0.9">80</text>
<text x="0" y="0" transform="translate(177.15,1609.74) scale(1.1071,1)" font-size="51.13" font-weight="normal" fill="#333333" stroke="#333333" stroke-width="0.9">90</text>
<text x="0" y="0" transform="translate(272.81,2812.59) scale(1.1939,1)" font-size="51.13" font-weight="normal" fill="#333333" stroke="#333333" stroke-width="0.9">0</text>
<text x="0" y="0" transform="translate(530.75,2812.59) scale(1.1017,1)" font-size="51.13" font-weight="normal" fill="#333333" stroke="#333333" stroke-width="0.9">50</text>
<text x="0" y="0" transform="translate(788.64,2812.59) scale(1.0503,1)" font-size="51.13" font-weight="normal" fill="#333333" stroke="#333333" stroke-width="0.9">100</text>
<text x="0" y="0" transform="translate(1060.89,2812.59) scale(1.0503,1)" font-size="51.13" font-weight="normal" fill="#333333" stroke="#333333" stroke-width="0.9">150</text>
<text x="0" y="0" transform="translate(1334.54,2812.59) scale(1.0337,1)" font-size="51.13" font-weight="normal" fill="#333333" stroke="#333333" stroke-width="0.9">200</text>
<text x="0" y="0" transform="translate(1606.79,2812.59) scale(1.0337,1)" font-size="51.13" font-weight="normal" fill="#333333" stroke="#333333" stroke-width="0.9">250</text>
<text x="0" y="0" transform="translate(1879.59,2812.59) scale(1.0272,1)" font-size="51.13" font-weight="normal" fill="#333333" stroke="#333333" stroke-width="0.9">300</text>
<text x="0" y="0" transform="translate(2151.85,2812.59) scale(1.0272,1)" font-size="51.13" font-weight="normal" fill="#333333" stroke="#333333" stroke-width="0.9">350</text>
<text x="0" y="0" transform="translate(1121.95,2881.53) scale(0.9962,1)" font-size="57.18" font-weight="normal" fill="#333333" stroke="#333333" stroke-width="0.9">Ce (ppm)</text>
<text x="0" y="0" transform="translate(140.00,2279.97) rotate(-90) scale(0.9509,1)" font-size="59.62" font-weight="normal" fill="#111" stroke="#111" stroke-width="1.6">qe (mg/g)</text>
</g>
<ellipse cx="300.8" cy="2689.2" rx="18" ry="16.5" fill="#4f81bd"/>
<ellipse cx="314.0" cy="2649.0" rx="18" ry="16.5" fill="#4f81bd"/>
<ellipse cx="319.4" cy="2602.3" rx="18" ry="16.5" fill="#4f81bd"/>
<ellipse cx="370.0" cy="2548.5" rx="18" ry="16.5" fill="#4f81bd"/>
<ellipse cx="424.8" cy="2498.7" rx="18" ry="16.5" fill="#4f81bd"/>
<ellipse cx="500.0" cy="2417.1" rx="18" ry="16.5" fill="#4f81bd"/>
<ellipse cx="670.3" cy="2324.8" rx="18" ry="16.5" fill="#4f81bd"/>
<ellipse cx="807.6" cy="2197.5" rx="18" ry="16.5" fill="#4f81bd"/>
<ellipse cx="1214.1" cy="2072.1" rx="18" ry="16.5" fill="#4f81bd"/>
<ellipse cx="1649.3" cy="1968.7" rx="18" ry="16.5" fill="#4f81bd"/>
<ellipse cx="2141.2" cy="1920.1" rx="18" ry="16.5" fill="#4f81bd"/>
<clipPath id="clip2"><rect x="288.4" y="1594.6" width="1905.8" height="1132.4"/></clipPath>
<polyline points="288.40,2727.00 288.40,2727.00 288.40,2727.00 288.40,2727.00 288.40,2727.00 288.40,2727.00 288.40,2727.00 288.40,2727.00 288.40,2727.00 288.40,2726.99 288.40,2726.99 288.40,2726.99 288.41,2726.99 288.41,2726.98 288.41,2726.98 288.41,2726.97 288.41,2726.96 288.42,2726.96 288.42,2726.95 288.42,2726.94 288.43,2726.93 288.43,2726.92 288.44,2726.91 288.44,2726.89 288.45,2726.88 288.45,2726.87 288.46,2726.85 288.47,2726.83 288.48,2726.81 288.48,2726.79 288.49,2726.77 288.50,2726.74 288.51,2726.72 288.52,2726.69 288.54,2726.66 288.55,2726.63 288.56,2726.60 288.57,2726.56 288.59,2726.53 288.60,2726.49 288.62,2726.45 288.64,2726.40 288.66,2726.36 288.67,2726.31 288.69,2726.26 288.71,2726.21 288.74,2726.16 288.76,2726.10 288.78,2726.05 288.81,2725.98 288.83,2725.92 288.86,2725.86 288.89,2725.79 288.91,2725.72 288.94,2725.64 288.97,2725.56 289.01,2725.48 289.04,2725.40 289.07,2725.32 289.11,2725.23 289.15,2725.14 289.18,2725.04 289.22,2724.95 289.26,2724.84 289.31,2724.74 289.35,2724.63 289.39,2724.52 289.44,2724.41 289.49,2724.29 289.53,2724.17 289.58,2724.05 289.64,2723.92 289.69,2723.79 289.74,2723.65 289.80,2723.51 289.86,2723.37 289.92,2723.22 289.98,2723.07 290.04,2722.92 290.10,2722.76 290.17,2722.60 290.24,2722.43 290.30,2722.26 290.38,2722.09 290.45,2721.91 290.52,2721.72 290.60,2721.54 290.67,2721.34 290.75,2721.15 290.84,2720.95 290.92,2720.74 291.00,2720.53 291.09,2720.32 291.18,2720.10 291.27,2719.88 291.36,2719.65 291.46,2719.42 291.55,2719.18 291.65,2718.94 291.75,2718.69 291.85,2718.44 291.96,2718.18 292.07,2717.92 292.18,2717.65 292.29,2717.38 292.40,2717.10 292.51,2716.82 292.63,2716.53 292.75,2716.24 292.87,2715.94 293.00,2715.64 293.12,2715.33 293.25,2715.01 293.38,2714.69 293.52,2714.37 293.65,2714.04 293.79,2713.70 293.93,2713.36 294.08,2713.01 294.22,2712.66 294.37,2712.30 294.52,2711.94 294.67,2711.57 294.83,2711.19 294.99,2710.81 295.15,2710.42 295.31,2710.03 295.48,2709.63 295.65,2709.22 295.82,2708.81 295.99,2708.39 296.17,2707.97 296.35,2707.54 296.53,2707.10 296.71,2706.66 296.90,2706.21 297.09,2705.75 297.28,2705.29 297.48,2704.83 297.68,2704.35 297.88,2703.87 298.08,2703.38 298.29,2702.89 298.50,2702.39 298.72,2701.89 298.93,2701.37 299.15,2700.85 299.37,2700.33 299.60,2699.80 299.83,2699.26 300.06,2698.71 300.29,2698.16 300.53,2697.60 300.77,2697.04 301.02,2696.46 301.27,2695.88 301.52,2695.30 301.77,2694.71 302.03,2694.11 302.29,2693.50 302.55,2692.89 302.82,2692.27 303.09,2691.64 303.36,2691.01 303.64,2690.37 303.92,2689.72 304.20,2689.06 304.49,2688.40 304.78,2687.73 305.08,2687.06 305.37,2686.38 305.67,2685.69 305.98,2684.99 306.29,2684.29 306.60,2683.58 306.92,2682.86 307.23,2682.13 307.56,2681.40 307.88,2680.66 308.21,2679.92 308.55,2679.16 308.89,2678.40 309.23,2677.63 309.57,2676.86 309.92,2676.08 310.27,2675.29 310.63,2674.49 310.99,2673.69 311.36,2672.88 311.72,2672.06 312.10,2671.24 312.47,2670.40 312.85,2669.56 313.24,2668.72 313.62,2667.86 314.02,2667.00 314.41,2666.14 314.81,2665.26 315.22,2664.38 315.63,2663.49 318.76,2656.72 321.90,2650.05 325.03,2643.48 328.17,2637.02 331.31,2630.64 334.44,2624.37 337.58,2618.18 340.72,2612.09 343.85,2606.08 346.99,2600.16 350.12,2594.33 353.26,2588.58 356.40,2582.90 359.53,2577.31 362.67,2571.80 365.80,2566.36 368.94,2561.00 372.08,2555.71 375.21,2550.49 378.35,2545.34 381.49,2540.26 384.62,2535.24 387.76,2530.30 390.89,2525.41 394.03,2520.60 397.17,2515.84 400.30,2511.14 403.44,2506.51 406.58,2501.93 409.71,2497.41 412.85,2492.95 415.98,2488.54 419.12,2484.18 422.26,2479.88 425.39,2475.64 428.53,2471.44 431.66,2467.30 434.80,2463.20 437.94,2459.15 441.07,2455.15 444.21,2451.20 447.35,2447.30 450.48,2443.43 453.62,2439.62 456.75,2435.85 459.89,2432.12 463.03,2428.43 466.16,2424.79 469.30,2421.18 472.43,2417.62 475.57,2414.09 478.71,2410.61 481.84,2407.16 484.98,2403.75 488.12,2400.38 491.25,2397.05 494.39,2393.75 497.52,2390.48 500.66,2387.25 503.80,2384.06 506.93,2380.90 510.07,2377.77 513.21,2374.67 516.34,2371.61 519.48,2368.57 522.61,2365.57 525.75,2362.60 528.89,2359.66 532.02,2356.75 535.16,2353.87 538.29,2351.02 541.43,2348.19 544.57,2345.39 547.70,2342.63 550.84,2339.88 553.98,2337.17 557.11,2334.48 560.25,2331.82 563.38,2329.18 566.52,2326.57 569.66,2323.98 572.79,2321.42 575.93,2318.88 579.07,2316.37 582.20,2313.88 585.34,2311.41 588.47,2308.96 591.61,2306.54 594.75,2304.14 597.88,2301.76 601.02,2299.41 604.15,2297.07 607.29,2294.76 610.43,2292.46 613.56,2290.19 616.70,2287.94 619.84,2285.70 622.97,2283.49 626.11,2281.30 629.24,2279.12 632.38,2276.97 635.52,2274.83 638.65,2272.71 641.79,2270.61 644.93,2268.53 648.06,2266.46 651.20,2264.42 654.33,2262.39 657.47,2260.37 660.61,2258.38 663.74,2256.40 666.88,2254.44 670.01,2252.49 673.15,2250.56 676.29,2248.64 679.42,2246.74 682.56,2244.86 685.70,2242.99 688.83,2241.14 691.97,2239.30 695.10,2237.47 698.24,2235.67 701.38,2233.87 704.51,2232.09 707.65,2230.32 710.78,2228.57 713.92,2226.83 717.06,2225.10 720.19,2223.39 723.33,2221.69 726.47,2220.01 729.60,2218.33 732.74,2216.67 735.87,2215.03 739.01,2213.39 742.15,2211.77 745.28,2210.16 748.42,2208.56 751.56,2206.97 754.69,2205.40 757.83,2203.83 760.96,2202.28 764.10,2200.74 767.24,2199.21 770.37,2197.70 773.51,2196.19 776.64,2194.69 779.78,2193.21 782.92,2191.73 786.05,2190.27 789.19,2188.82 792.33,2187.37 795.46,2185.94 798.60,2184.52 801.73,2183.10 804.87,2181.70 808.01,2180.31 811.14,2178.93 814.28,2177.55 817.42,2176.19 820.55,2174.83 823.69,2173.49 826.82,2172.15 829.96,2170.82 833.10,2169.51 836.23,2168.20 839.37,2166.90 842.50,2165.61 845.64,2164.32 848.78,2163.05 851.91,2161.78 855.05,2160.53 858.19,2159.28 861.32,2158.04 864.46,2156.80 867.59,2155.58 870.73,2154.36 873.87,2153.15 877.00,2151.95 880.14,2150.76 883.28,2149.57 886.41,2148.40 889.55,2147.23 892.68,2146.06 895.82,2144.91 898.96,2143.76 902.09,2142.62 905.23,2141.49 908.36,2140.36 911.50,2139.24 914.64,2138.13 917.77,2137.02 920.91,2135.93 924.05,2134.83 927.18,2133.75 930.32,2132.67 933.45,2131.60 936.59,2130.53 939.73,2129.48 942.86,2128.42 946.00,2127.38 949.13,2126.34 952.27,2125.31 955.41,2124.28 958.54,2123.26 961.68,2122.24 964.82,2121.23 967.95,2120.23 971.09,2119.24 974.22,2118.24 977.36,2117.26 980.50,2116.28 983.63,2115.31 986.77,2114.34 989.91,2113.38 993.04,2112.42 996.18,2111.47 999.31,2110.52 1002.45,2109.58 1005.59,2108.65 1008.72,2107.72 1011.86,2106.79 1014.99,2105.88 1018.13,2104.96 1021.27,2104.05 1024.40,2103.15 1027.54,2102.25 1030.68,2101.36 1033.81,2100.47 1036.95,2099.59 1040.08,2098.71 1043.22,2097.83 1046.36,2096.97 1049.49,2096.10 1052.63,2095.24 1055.77,2094.39 1058.90,2093.54 1062.04,2092.69 1065.17,2091.85 1068.31,2091.02 1071.45,2090.18 1074.58,2089.36 1077.72,2088.53 1080.85,2087.72 1083.99,2086.90 1087.13,2086.09 1090.26,2085.29 1093.40,2084.49 1096.54,2083.69 1099.67,2082.90 1102.81,2082.11 1105.94,2081.32 1109.08,2080.54 1112.22,2079.77 1115.35,2079.00 1118.49,2078.23 1121.63,2077.46 1124.76,2076.70 1127.90,2075.95 1131.03,2075.20 1134.17,2074.45 1137.31,2073.70 1140.44,2072.96 1143.58,2072.23 1146.71,2071.49 1149.85,2070.76 1152.99,2070.04 1156.12,2069.32 1159.26,2068.60 1162.40,2067.88 1165.53,2067.17 1168.67,2066.46 1171.80,2065.76 1174.94,2065.06 1178.08,2064.36 1181.21,2063.67 1184.35,2062.98 1187.48,2062.29 1190.62,2061.60 1193.76,2060.92 1196.89,2060.25 1200.03,2059.57 1203.17,2058.90 1206.30,2058.24 1209.44,2057.57 1212.57,2056.91 1215.71,2056.25 1218.85,2055.60 1221.98,2054.95 1225.12,2054.30 1228.26,2053.65 1231.39,2053.01 1234.53,2052.37 1237.66,2051.74 1240.80,2051.10 1243.94,2050.47 1247.07,2049.85 1250.21,2049.22 1253.34,2048.60 1256.48,2047.98 1259.62,2047.37 1262.75,2046.76 1265.89,2046.15 1269.03,2045.54 1272.16,2044.93 1275.30,2044.33 1278.43,2043.73 1281.57,2043.14 1284.71,2042.55 1287.84,2041.96 1290.98,2041.37 1294.12,2040.78 1297.25,2040.20 1300.39,2039.62 1303.52,2039.04 1306.66,2038.47 1309.80,2037.90 1312.93,2037.33 1316.07,2036.76 1319.20,2036.20 1322.34,2035.63 1325.48,2035.07 1328.61,2034.52 1331.75,2033.96 1334.89,2033.41 1338.02,2032.86 1341.16,2032.31 1344.29,2031.77 1347.43,2031.23 1350.57,2030.69 1353.70,2030.15 1356.84,2029.61 1359.98,2029.08 1363.11,2028.55 1366.25,2028.02 1369.38,2027.49 1372.52,2026.97 1375.66,2026.45 1378.79,2025.93 1381.93,2025.41 1385.06,2024.90 1388.20,2024.38 1391.34,2023.87 1394.47,2023.37 1397.61,2022.86 1400.75,2022.35 1403.88,2021.85 1407.02,2021.35 1410.15,2020.85 1413.29,2020.36 1416.43,2019.86 1419.56,2019.37 1422.70,2018.88 1425.83,2018.40 1428.97,2017.91 1432.11,2017.43 1435.24,2016.94 1438.38,2016.47 1441.52,2015.99 1444.65,2015.51 1447.79,2015.04 1450.92,2014.57 1454.06,2014.10 1457.20,2013.63 1460.33,2013.16 1463.47,2012.70 1466.61,2012.23 1469.74,2011.77 1472.88,2011.32 1476.01,2010.86 1479.15,2010.40 1482.29,2009.95 1485.42,2009.50 1488.56,2009.05 1491.69,2008.60 1494.83,2008.16 1497.97,2007.71 1501.10,2007.27 1504.24,2006.83 1507.38,2006.39 1510.51,2005.95 1513.65,2005.52 1516.78,2005.08 1519.92,2004.65 1523.06,2004.22 1526.19,2003.79 1529.33,2003.36 1532.47,2002.94 1535.60,2002.51 1538.74,2002.09 1541.87,2001.67 1545.01,2001.25 1548.15,2000.83 1551.28,2000.42 1554.42,2000.00 1557.55,1999.59 1560.69,1999.18 1563.83,1998.77 1566.96,1998.36 1570.10,1997.96 1573.24,1997.55 1576.37,1997.15 1579.51,1996.75 1582.64,1996.35 1585.78,1995.95 1588.92,1995.55 1592.05,1995.15 1595.19,1994.76 1598.33,1994.37 1601.46,1993.97 1604.60,1993.58 1607.73,1993.20 1610.87,1992.81 1614.01,1992.42 1617.14,1992.04 1620.28,1991.66 1623.41,1991.27 1626.55,1990.89 1629.69,1990.52 1632.82,1990.14 1635.96,1989.76 1639.10,1989.39 1642.23,1989.01 1645.37,1988.64 1648.50,1988.27 1651.64,1987.90 1654.78,1987.53 1657.91,1987.17 1661.05,1986.80 1664.18,1986.44 1667.32,1986.08 1670.46,1985.71 1673.59,1985.35 1676.73,1985.00 1679.87,1984.64 1683.00,1984.28 1686.14,1983.93 1689.27,1983.57 1692.41,1983.22 1695.55,1982.87 1698.68,1982.52 1701.82,1982.17 1704.96,1981.82 1708.09,1981.48 1711.23,1981.13 1714.36,1980.79 1717.50,1980.44 1720.64,1980.10 1723.77,1979.76 1726.91,1979.42 1730.04,1979.08 1733.18,1978.75 1736.32,1978.41 1739.45,1978.08 1742.59,1977.74 1745.73,1977.41 1748.86,1977.08 1752.00,1976.75 1755.13,1976.42 1758.27,1976.09 1761.41,1975.77 1764.54,1975.44 1767.68,1975.12 1770.82,1974.79 1773.95,1974.47 1777.09,1974.15 1780.22,1973.83 1783.36,1973.51 1786.50,1973.19 1789.63,1972.88 1792.77,1972.56 1795.90,1972.25 1799.04,1971.93 1802.18,1971.62 1805.31,1971.31 1808.45,1971.00 1811.59,1970.69 1814.72,1970.38 1817.86,1970.07 1820.99,1969.76 1824.13,1969.46 1827.27,1969.15 1830.40,1968.85 1833.54,1968.55 1836.68,1968.25 1839.81,1967.94 1842.95,1967.65 1846.08,1967.35 1849.22,1967.05 1852.36,1966.75 1855.49,1966.46 1858.63,1966.16 1861.76,1965.87 1864.90,1965.57 1868.04,1965.28 1871.17,1964.99 1874.31,1964.70 1877.45,1964.41 1880.58,1964.12 1883.72,1963.84 1886.85,1963.55 1889.99,1963.26 1893.13,1962.98 1896.26,1962.70 1899.40,1962.41 1902.53,1962.13 1905.67,1961.85 1908.81,1961.57 1911.94,1961.29 1915.08,1961.01 1918.22,1960.73 1921.35,1960.46 1924.49,1960.18 1927.62,1959.91 1930.76,1959.63 1933.90,1959.36 1937.03,1959.09 1940.17,1958.81 1943.31,1958.54 1946.44,1958.27 1949.58,1958.00 1952.71,1957.74 1955.85,1957.47 1958.99,1957.20 1962.12,1956.94 1965.26,1956.67 1968.39,1956.41 1971.53,1956.14 1974.67,1955.88 1977.80,1955.62 1980.94,1955.36 1984.08,1955.10 1987.21,1954.84 1990.35,1954.58 1993.48,1954.32 1996.62,1954.06 1999.76,1953.81 2002.89,1953.55 2006.03,1953.30 2009.17,1953.04 2012.30,1952.79 2015.44,1952.54 2018.57,1952.29 2021.71,1952.04 2024.85,1951.79 2027.98,1951.54 2031.12,1951.29 2034.25,1951.04 2037.39,1950.79 2040.53,1950.54 2043.66,1950.30 2046.80,1950.05 2049.94,1949.81 2053.07,1949.57 2056.21,1949.32 2059.34,1949.08 2062.48,1948.84 2065.62,1948.60 2068.75,1948.36 2071.89,1948.12 2075.03,1947.88 2078.16,1947.64 2081.30,1947.40 2084.43,1947.17 2087.57,1946.93 2090.71,1946.70 2093.84,1946.46 2096.98,1946.23 2100.11,1945.99 2103.25,1945.76 2106.39,1945.53 2109.52,1945.30 2112.66,1945.07 2115.80,1944.84 2118.93,1944.61 2122.07,1944.38 2125.20,1944.15 2128.34,1943.92 2131.48,1943.70 2134.61,1943.47 2137.75,1943.24 2140.88,1943.02 2144.02,1942.80 2147.16,1942.57 2150.29,1942.35 2153.43,1942.13 2156.57,1941.90 2159.70,1941.68 2162.84,1941.46 2165.97,1941.24 2169.11,1941.02 2172.25,1940.80 2175.38,1940.59 2178.52,1940.37 2181.66,1940.15 2184.79,1939.94 2187.93,1939.72 2191.06,1939.51 2194.20,1939.29" fill="none" stroke="#c0504d" stroke-width="6" stroke-linejoin="round" stroke-linecap="round" clip-path="url(#clip2)"/>
<polyline points="288.40,2727.00 288.40,2726.99 288.40,2726.98 288.40,2726.95 288.40,2726.92 288.40,2726.87 288.40,2726.83 288.40,2726.77 288.40,2726.71 288.40,2726.64 288.40,2726.57 288.40,2726.49 288.41,2726.41 288.41,2726.32 288.41,2726.22 288.41,2726.12 288.41,2726.01 288.42,2725.90 288.42,2725.78 288.42,2725.66 288.43,2725.53 288.43,2725.40 288.44,2725.26 288.44,2725.12 288.45,2724.97 288.45,2724.82 288.46,2724.66 288.47,2724.50 288.48,2724.34 288.48,2724.16 288.49,2723.99 288.50,2723.81 288.51,2723.62 288.52,2723.43 288.54,2723.24 288.55,2723.04 288.56,2722.84 288.57,2722.63 288.59,2722.42 288.60,2722.20 288.62,2721.98 288.64,2721.76 288.66,2721.53 288.67,2721.30 288.69,2721.06 288.71,2720.82 288.74,2720.57 288.76,2720.32 288.78,2720.07 288.81,2719.81 288.83,2719.54 288.86,2719.28 288.89,2719.01 288.91,2718.73 288.94,2718.45 288.97,2718.17 289.01,2717.88 289.04,2717.59 289.07,2717.30 289.11,2717.00 289.15,2716.70 289.18,2716.39 289.22,2716.08 289.26,2715.76 289.31,2715.44 289.35,2715.12 289.39,2714.80 289.44,2714.47 289.49,2714.13 289.53,2713.79 289.58,2713.45 289.64,2713.11 289.69,2712.76 289.74,2712.41 289.80,2712.05 289.86,2711.69 289.92,2711.32 289.98,2710.96 290.04,2710.58 290.10,2710.21 290.17,2709.83 290.24,2709.45 290.30,2709.06 290.38,2708.67 290.45,2708.28 290.52,2707.88 290.60,2707.48 290.67,2707.07 290.75,2706.67 290.84,2706.25 290.92,2705.84 291.00,2705.42 291.09,2705.00 291.18,2704.57 291.27,2704.14 291.36,2703.71 291.46,2703.27 291.55,2702.83 291.65,2702.39 291.75,2701.94 291.85,2701.49 291.96,2701.03 292.07,2700.57 292.18,2700.11 292.29,2699.65 292.40,2699.18 292.51,2698.71 292.63,2698.23 292.75,2697.75 292.87,2697.27 293.00,2696.78 293.12,2696.30 293.25,2695.80 293.38,2695.31 293.52,2694.81 293.65,2694.30 293.79,2693.80 293.93,2693.29 294.08,2692.77 294.22,2692.26 294.37,2691.74 294.52,2691.22 294.67,2690.69 294.83,2690.16 294.99,2689.63 295.15,2689.09 295.31,2688.55 295.48,2688.01 295.65,2687.46 295.82,2686.91 295.99,2686.36 296.17,2685.80 296.35,2685.24 296.53,2684.68 296.71,2684.11 296.90,2683.54 297.09,2682.97 297.28,2682.39 297.48,2681.81 297.68,2681.23 297.88,2680.64 298.08,2680.05 298.29,2679.46 298.50,2678.87 298.72,2678.27 298.93,2677.66 299.15,2677.06 299.37,2676.45 299.60,2675.84 299.83,2675.22 300.06,2674.60 300.29,2673.98 300.53,2673.36 300.77,2672.73 301.02,2672.10 301.27,2671.46 301.52,2670.83 301.77,2670.19 302.03,2669.54 302.29,2668.90 302.55,2668.25 302.82,2667.59 303.09,2666.94 303.36,2666.28 303.64,2665.61 303.92,2664.95 304.20,2664.28 304.49,2663.61 304.78,2662.93 305.08,2662.25 305.37,2661.57 305.67,2660.89 305.98,2660.20 306.29,2659.51 306.60,2658.81 306.92,2658.12 307.23,2657.42 307.56,2656.71 307.88,2656.01 308.21,2655.30 308.55,2654.59 308.89,2653.87 309.23,2653.15 309.57,2652.43 309.92,2651.71 310.27,2650.98 310.63,2650.25 310.99,2649.51 311.36,2648.78 311.72,2648.04 312.10,2647.29 312.47,2646.55 312.85,2645.80 313.24,2645.05 313.62,2644.29 314.02,2643.53 314.41,2642.77 314.81,2642.01 315.22,2641.24 315.63,2640.47 318.76,2634.70 321.90,2629.18 325.03,2623.86 328.17,2618.72 331.31,2613.75 334.44,2608.92 337.58,2604.23 340.72,2599.66 343.85,2595.19 346.99,2590.83 350.12,2586.57 353.26,2582.39 356.40,2578.29 359.53,2574.27 362.67,2570.32 365.80,2566.44 368.94,2562.63 372.08,2558.87 375.21,2555.17 378.35,2551.52 381.49,2547.93 384.62,2544.38 387.76,2540.89 390.89,2537.43 394.03,2534.02 397.17,2530.65 400.30,2527.32 403.44,2524.03 406.58,2520.78 409.71,2517.55 412.85,2514.37 415.98,2511.21 419.12,2508.09 422.26,2505.00 425.39,2501.94 428.53,2498.90 431.66,2495.90 434.80,2492.92 437.94,2489.96 441.07,2487.03 444.21,2484.13 447.35,2481.25 450.48,2478.39 453.62,2475.56 456.75,2472.75 459.89,2469.95 463.03,2467.18 466.16,2464.43 469.30,2461.70 472.43,2458.99 475.57,2456.30 478.71,2453.62 481.84,2450.97 484.98,2448.33 488.12,2445.71 491.25,2443.10 494.39,2440.51 497.52,2437.94 500.66,2435.39 503.80,2432.84 506.93,2430.32 510.07,2427.81 513.21,2425.31 516.34,2422.83 519.48,2420.36 522.61,2417.90 525.75,2415.46 528.89,2413.03 532.02,2410.62 535.16,2408.21 538.29,2405.82 541.43,2403.44 544.57,2401.08 547.70,2398.72 550.84,2396.38 553.98,2394.05 557.11,2391.73 560.25,2389.42 563.38,2387.12 566.52,2384.83 569.66,2382.55 572.79,2380.29 575.93,2378.03 579.07,2375.78 582.20,2373.55 585.34,2371.32 588.47,2369.10 591.61,2366.89 594.75,2364.69 597.88,2362.50 601.02,2360.32 604.15,2358.15 607.29,2355.99 610.43,2353.83 613.56,2351.69 616.70,2349.55 619.84,2347.42 622.97,2345.30 626.11,2343.19 629.24,2341.08 632.38,2338.99 635.52,2336.90 638.65,2334.82 641.79,2332.74 644.93,2330.68 648.06,2328.62 651.20,2326.57 654.33,2324.52 657.47,2322.49 660.61,2320.46 663.74,2318.43 666.88,2316.42 670.01,2314.41 673.15,2312.40 676.29,2310.41 679.42,2308.42 682.56,2306.44 685.70,2304.46 688.83,2302.49 691.97,2300.53 695.10,2298.57 698.24,2296.62 701.38,2294.67 704.51,2292.73 707.65,2290.80 710.78,2288.87 713.92,2286.95 717.06,2285.03 720.19,2283.12 723.33,2281.22 726.47,2279.32 729.60,2277.43 732.74,2275.54 735.87,2273.66 739.01,2271.78 742.15,2269.91 745.28,2268.04 748.42,2266.18 751.56,2264.32 754.69,2262.47 757.83,2260.63 760.96,2258.79 764.10,2256.95 767.24,2255.12 770.37,2253.29 773.51,2251.47 776.64,2249.66 779.78,2247.85 782.92,2246.04 786.05,2244.24 789.19,2242.44 792.33,2240.65 795.46,2238.86 798.60,2237.07 801.73,2235.29 804.87,2233.52 808.01,2231.75 811.14,2229.98 814.28,2228.22 817.42,2226.46 820.55,2224.71 823.69,2222.96 826.82,2221.22 829.96,2219.48 833.10,2217.74 836.23,2216.01 839.37,2214.28 842.50,2212.55 845.64,2210.83 848.78,2209.12 851.91,2207.40 855.05,2205.69 858.19,2203.99 861.32,2202.29 864.46,2200.59 867.59,2198.90 870.73,2197.21 873.87,2195.52 877.00,2193.84 880.14,2192.16 883.28,2190.48 886.41,2188.81 889.55,2187.15 892.68,2185.48 895.82,2183.82 898.96,2182.16 902.09,2180.51 905.23,2178.86 908.36,2177.21 911.50,2175.57 914.64,2173.93 917.77,2172.29 920.91,2170.66 924.05,2169.03 927.18,2167.40 930.32,2165.78 933.45,2164.15 936.59,2162.54 939.73,2160.92 942.86,2159.31 946.00,2157.70 949.13,2156.10 952.27,2154.50 955.41,2152.90 958.54,2151.30 961.68,2149.71 964.82,2148.12 967.95,2146.54 971.09,2144.95 974.22,2143.37 977.36,2141.80 980.50,2140.22 983.63,2138.65 986.77,2137.08 989.91,2135.52 993.04,2133.95 996.18,2132.39 999.31,2130.83 1002.45,2129.28 1005.59,2127.73 1008.72,2126.18 1011.86,2124.63 1014.99,2123.09 1018.13,2121.55 1021.27,2120.01 1024.40,2118.48 1027.54,2116.94 1030.68,2115.41 1033.81,2113.89 1036.95,2112.36 1040.08,2110.84 1043.22,2109.32 1046.36,2107.80 1049.49,2106.29 1052.63,2104.78 1055.77,2103.27 1058.90,2101.76 1062.04,2100.26 1065.17,2098.75 1068.31,2097.25 1071.45,2095.76 1074.58,2094.26 1077.72,2092.77 1080.85,2091.28 1083.99,2089.79 1087.13,2088.31 1090.26,2086.83 1093.40,2085.35 1096.54,2083.87 1099.67,2082.39 1102.81,2080.92 1105.94,2079.45 1109.08,2077.98 1112.22,2076.52 1115.35,2075.05 1118.49,2073.59 1121.63,2072.13 1124.76,2070.67 1127.90,2069.22 1131.03,2067.77 1134.17,2066.32 1137.31,2064.87 1140.44,2063.42 1143.58,2061.98 1146.71,2060.54 1149.85,2059.10 1152.99,2057.66 1156.12,2056.22 1159.26,2054.79 1162.40,2053.36 1165.53,2051.93 1168.67,2050.50 1171.80,2049.08 1174.94,2047.66 1178.08,2046.24 1181.21,2044.82 1184.35,2043.40 1187.48,2041.99 1190.62,2040.57 1193.76,2039.16 1196.89,2037.75 1200.03,2036.35 1203.17,2034.94 1206.30,2033.54 1209.44,2032.14 1212.57,2030.74 1215.71,2029.34 1218.85,2027.95 1221.98,2026.56 1225.12,2025.16 1228.26,2023.78 1231.39,2022.39 1234.53,2021.00 1237.66,2019.62 1240.80,2018.24 1243.94,2016.86 1247.07,2015.48 1250.21,2014.10 1253.34,2012.73 1256.48,2011.36 1259.62,2009.99 1262.75,2008.62 1265.89,2007.25 1269.03,2005.89 1272.16,2004.52 1275.30,2003.16 1278.43,2001.80 1281.57,2000.44 1284.71,1999.09 1287.84,1997.73 1290.98,1996.38 1294.12,1995.03 1297.25,1993.68 1300.39,1992.33 1303.52,1990.98 1306.66,1989.64 1309.80,1988.30 1312.93,1986.96 1316.07,1985.62 1319.20,1984.28 1322.34,1982.94 1325.48,1981.61 1328.61,1980.28 1331.75,1978.94 1334.89,1977.61 1338.02,1976.29 1341.16,1974.96 1344.29,1973.64 1347.43,1972.31 1350.57,1970.99 1353.70,1969.67 1356.84,1968.35 1359.98,1967.04 1363.11,1965.72 1366.25,1964.41 1369.38,1963.10 1372.52,1961.79 1375.66,1960.48 1378.79,1959.17 1381.93,1957.86 1385.06,1956.56 1388.20,1955.26 1391.34,1953.96 1394.47,1952.66 1397.61,1951.36 1400.75,1950.06 1403.88,1948.77 1407.02,1947.47 1410.15,1946.18 1413.29,1944.89 1416.43,1943.60 1419.56,1942.31 1422.70,1941.03 1425.83,1939.74 1428.97,1938.46 1432.11,1937.18 1435.24,1935.90 1438.38,1934.62 1441.52,1933.34 1444.65,1932.06 1447.79,1930.79 1450.92,1929.51 1454.06,1928.24 1457.20,1926.97 1460.33,1925.70 1463.47,1924.43 1466.61,1923.17 1469.74,1921.90 1472.88,1920.64 1476.01,1919.38 1479.15,1918.12 1482.29,1916.86 1485.42,1915.60 1488.56,1914.34 1491.69,1913.09 1494.83,1911.83 1497.97,1910.58 1501.10,1909.33 1504.24,1908.08 1507.38,1906.83 1510.51,1905.58 1513.65,1904.33 1516.78,1903.09 1519.92,1901.84 1523.06,1900.60 1526.19,1899.36 1529.33,1898.12 1532.47,1896.88 1535.60,1895.64 1538.74,1894.41 1541.87,1893.17 1545.01,1891.94 1548.15,1890.71 1551.28,1889.48 1554.42,1888.25 1557.55,1887.02 1560.69,1885.79 1563.83,1884.56 1566.96,1883.34 1570.10,1882.12 1573.24,1880.89 1576.37,1879.67 1579.51,1878.45 1582.64,1877.23 1585.78,1876.02 1588.92,1874.80 1592.05,1873.58 1595.19,1872.37 1598.33,1871.16 1601.46,1869.95 1604.60,1868.74 1607.73,1867.53 1610.87,1866.32 1614.01,1865.11 1617.14,1863.91 1620.28,1862.70 1623.41,1861.50 1626.55,1860.30 1629.69,1859.09 1632.82,1857.89 1635.96,1856.70 1639.10,1855.50 1642.23,1854.30 1645.37,1853.11 1648.50,1851.91 1651.64,1850.72 1654.78,1849.53 1657.91,1848.34 1661.05,1847.15 1664.18,1845.96 1667.32,1844.77 1670.46,1843.58 1673.59,1842.40 1676.73,1841.21 1679.87,1840.03 1683.00,1838.85 1686.14,1837.67 1689.27,1836.49 1692.41,1835.31 1695.55,1834.13 1698.68,1832.95 1701.82,1831.78 1704.96,1830.60 1708.09,1829.43 1711.23,1828.26 1714.36,1827.09 1717.50,1825.92 1720.64,1824.75 1723.77,1823.58 1726.91,1822.41 1730.04,1821.24 1733.18,1820.08 1736.32,1818.92 1739.45,1817.75 1742.59,1816.59 1745.73,1815.43 1748.86,1814.27 1752.00,1813.11 1755.13,1811.95 1758.27,1810.80 1761.41,1809.64 1764.54,1808.48 1767.68,1807.33 1770.82,1806.18 1773.95,1805.03 1777.09,1803.87 1780.22,1802.72 1783.36,1801.58 1786.50,1800.43 1789.63,1799.28 1792.77,1798.13 1795.90,1796.99 1799.04,1795.84 1802.18,1794.70 1805.31,1793.56 1808.45,1792.42 1811.59,1791.28 1814.72,1790.14 1817.86,1789.00 1820.99,1787.86 1824.13,1786.73 1827.27,1785.59 1830.40,1784.46 1833.54,1783.32 1836.68,1782.19 1839.81,1781.06 1842.95,1779.93 1846.08,1778.80 1849.22,1777.67 1852.36,1776.54 1855.49,1775.41 1858.63,1774.29 1861.76,1773.16 1864.90,1772.04 1868.04,1770.91 1871.17,1769.79 1874.31,1768.67 1877.45,1767.55 1880.58,1766.43 1883.72,1765.31 1886.85,1764.19 1889.99,1763.08 1893.13,1761.96 1896.26,1760.84 1899.40,1759.73 1902.53,1758.62 1905.67,1757.50 1908.81,1756.39 1911.94,1755.28 1915.08,1754.17 1918.22,1753.06 1921.35,1751.95 1924.49,1750.85 1927.62,1749.74 1930.76,1748.63 1933.90,1747.53 1937.03,1746.43 1940.17,1745.32 1943.31,1744.22 1946.44,1743.12 1949.58,1742.02 1952.71,1740.92 1955.85,1739.82 1958.99,1738.72 1962.12,1737.62 1965.26,1736.53 1968.39,1735.43 1971.53,1734.34 1974.67,1733.24 1977.80,1732.15 1980.94,1731.06 1984.08,1729.97 1987.21,1728.88 1990.35,1727.79 1993.48,1726.70 1996.62,1725.61 1999.76,1724.52 2002.89,1723.44 2006.03,1722.35 2009.17,1721.27 2012.30,1720.18 2015.44,1719.10 2018.57,1718.02 2021.71,1716.94 2024.85,1715.85 2027.98,1714.77 2031.12,1713.70 2034.25,1712.62 2037.39,1711.54 2040.53,1710.46 2043.66,1709.39 2046.80,1708.31 2049.94,1707.24 2053.07,1706.16 2056.21,1705.09 2059.34,1704.02 2062.48,1702.95 2065.62,1701.88 2068.75,1700.81 2071.89,1699.74 2075.03,1698.67 2078.16,1697.60 2081.30,1696.53 2084.43,1695.47 2087.57,1694.40 2090.71,1693.34 2093.84,1692.28 2096.98,1691.21 2100.11,1690.15 2103.25,1689.09 2106.39,1688.03 2109.52,1686.97 2112.66,1685.91 2115.80,1684.85 2118.93,1683.79 2122.07,1682.74 2125.20,1681.68 2128.34,1680.62 2131.48,1679.57 2134.61,1678.52 2137.75,1677.46 2140.88,1676.41 2144.02,1675.36 2147.16,1674.31 2150.29,1673.26 2153.43,1672.21 2156.57,1671.16 2159.70,1670.11 2162.84,1669.06 2165.97,1668.01 2169.11,1666.97 2172.25,1665.92 2175.38,1664.88 2178.52,1663.83 2181.66,1662.79 2184.79,1661.75 2187.93,1660.71 2191.06,1659.67 2194.20,1658.63" fill="none" stroke="#9bbb59" stroke-width="6" stroke-linejoin="round" stroke-linecap="round" clip-path="url(#clip2)"/>
<ellipse cx="1521.1" cy="2266.5" rx="19" ry="17.5" fill="#4f81bd"/>
<line x1="1461.5" x2="1584.2" y1="2377.9" y2="2377.9" stroke="#c0504d" stroke-width="6" stroke-linecap="round"/>
<line x1="1461.5" x2="1584.2" y1="2485.3" y2="2485.3" stroke="#9bbb59" stroke-width="6" stroke-linecap="round"/>
<g font-family='"Liberation Sans", Arial, sans-serif'>
<text x="0" y="0" transform="translate(1613.33,2285.40) scale(0.9942,1)" font-size="54.57" fill="#262626" stroke="#262626" stroke-width="0.9">qe exp SBA-15-EDTA</text>
<text x="0" y="0" transform="translate(1597.41,2393.30) scale(1.0345,1)" font-size="55.51" fill="#262626" stroke="#262626" stroke-width="0.9">Langmuir</text>
<text x="0" y="0" transform="translate(1597.35,2504.70) scale(1.0153,1)" font-size="57.25" fill="#262626" stroke="#262626" stroke-width="0.9">Freundlich</text>
</g>
</svg></body></html>
